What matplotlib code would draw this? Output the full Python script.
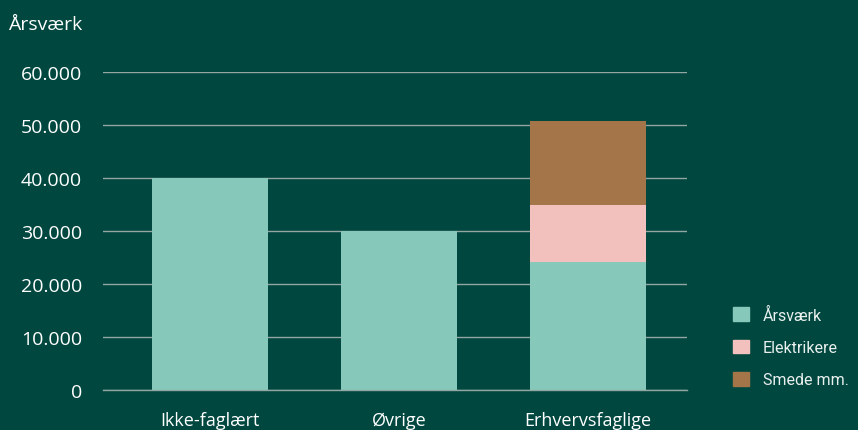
import matplotlib.pyplot as plt
import numpy as np
from matplotlib.patches import Patch
from matplotlib.ticker import FuncFormatter

categories = ['Ikke-faglært', 'Øvrige', 'Erhvervsfaglige']
aarsvaerk = [40000, 30000, 24200]
elektrikere = [0, 0, 10700]
smede = [0, 0, 15850]
yticks = [0, 10000, 20000, 30000, 40000, 50000, 60000]

bg = '#00473f'
teal = '#86c9bb'
pink = '#f2c1be'
brown = '#a47548'
txt = '#ffffff'

fig = plt.figure(figsize=(8.58, 4.31), dpi=100, facecolor=bg)
ax = fig.add_axes([103 / 858, 40 / 431, 584 / 858, 318 / 431], facecolor=bg)

x = np.arange(len(categories))
w = 0.614
a = np.array(aarsvaerk)
e = np.array(elektrikere)
s = np.array(smede)
ax.bar(x, a, w, color=teal, zorder=3)
ax.bar(x[e > 0], e[e > 0], w, bottom=a[e > 0], color=pink, zorder=3)
ax.bar(x[s > 0], s[s > 0], w, bottom=(a + e)[s > 0], color=brown, zorder=3)

ax.set_xlim(-0.566, 2.524)
ax.set_ylim(0, 60000)
ax.set_yticks(yticks)
ax.yaxis.set_major_formatter(FuncFormatter(lambda v, p: f'{int(v):,}'.replace(',', '.')))
ax.set_xticks(x)
ax.set_xticklabels(categories)
ax.grid(axis='y', color='#93a6a1', linewidth=1.0, zorder=1)
ax.axhline(0, color='#93a6a1', linewidth=1.0, zorder=4, clip_on=False)
for sp in ax.spines.values():
    sp.set_visible(False)
ax.tick_params(axis='y', length=0, pad=15, labelsize=14, labelcolor=txt)
ax.tick_params(axis='x', length=0, pad=15, labelsize=13, labelcolor=txt)
for lbl in ax.get_xticklabels() + ax.get_yticklabels():
    lbl.set_fontfamily('Open Sans')

fig.text(8 / 858, 1 - 25 / 431, 'Årsværk', color=txt, fontsize=14,
         family='Open Sans', va='center', ha='left')

handles = [Patch(color=teal, label='Årsværk'),
           Patch(color=pink, label='Elektrikere'),
           Patch(color=brown, label='Smede mm.')]
leg = fig.legend(handles=handles, loc='center left', bbox_to_anchor=(719 / 858, 1 - 348 / 431),
                 frameon=False, handlelength=0.95, handleheight=0.95, handletextpad=0.9,
                 labelspacing=1.05, prop={'family': 'Roboto', 'size': 11.5})
for t in leg.get_texts():
    t.set_color('#e8efed')

fig.savefig('out.png', dpi=100, facecolor=bg)
